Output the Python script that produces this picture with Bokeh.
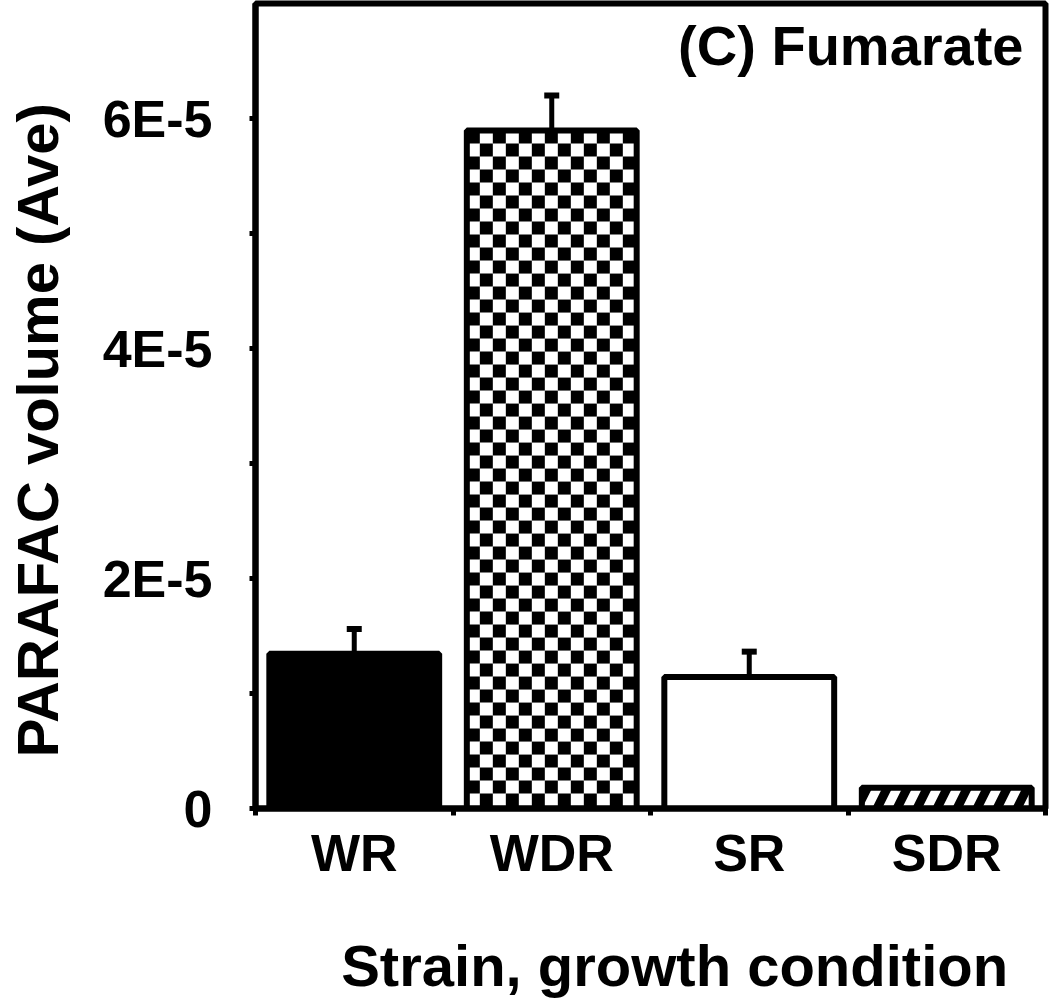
import math
from bokeh.plotting import figure
from bokeh.models import (ColumnDataSource, FixedTicker, Whisker, TeeHead, Label, Range1d)
from bokeh.embed import file_html
from bokeh.resources import INLINE

# ---- data ----
categories = ["WR", "WDR", "SR", "SDR"]
means = [1.345e-5, 5.895e-5, 1.144e-5, 0.18e-5]
errors = [0.215e-5, 0.305e-5, 0.22e-5, 0.0]
y_ticks = [0, 2e-5, 4e-5, 6e-5]
y_tick_labels = ["0", "2E-5", "4E-5", "6E-5"]
y_minor_ticks = [1e-5, 3e-5, 5e-5]
y_max = 7e-5
title_text = "(C) Fumarate"
x_title = "Strain, growth condition"
y_title = "PARAFAC volume (Ave)"

FONT = "Liberation Sans"
NBSP = "\u00a0"

# ---- layout ----
W, H = 1050, 1002
B_LEFT, B_RIGHT, B_TOP, B_BOTTOM = 255, 5, 3, 194
FRAME_W = W - B_LEFT - B_RIGHT
FRAME_H = H - B_TOP - B_BOTTOM
BAR_W = 0.86

n = len(categories)
xs = [i + 0.5 for i in range(n)]
bounds = [float(i) for i in range(n + 1)]

p = figure(width=W, height=H, output_backend="svg", toolbar_location=None,
           x_range=Range1d(0, n), y_range=Range1d(0, y_max),
           min_border_left=B_LEFT, min_border_right=B_RIGHT, min_border_top=B_TOP,
           min_border_bottom=B_BOTTOM)
p.xgrid.visible = False
p.ygrid.visible = False
p.outline_line_color = "black"
p.outline_line_width = 6
p.background_fill_color = "white"
p.border_fill_color = "white"

# pixel -> data conversion for the checker fill of WDR
px_x = FRAME_W / n
px_y = FRAME_H / y_max
CELL = 13.0

def checker_quads(xc, top, width):
    left, right = xc - width / 2, xc + width / 2
    cw, ch = CELL / px_x, CELL / px_y
    nx = int(math.ceil((right - left) / cw))
    ny = int(math.ceil(top / ch))
    L, R, B, T = [], [], [], []
    for j in range(ny):
        for i in range(nx):
            if (i + j) % 2 == 0:
                l = left + i * cw
                r = min(left + (i + 1) * cw, right)
                t = top - j * ch
                b = max(top - (j + 1) * ch, 0)
                L.append(l); R.append(r); B.append(b); T.append(t)
    return dict(left=L, right=R, bottom=B, top=T)

# WR: solid black
p.vbar(x=[xs[0]], top=[means[0]], bottom=0, width=BAR_W,
       fill_color="black", line_color="black", line_width=6)
# WDR: checkerboard
p.vbar(x=[xs[1]], top=[means[1]], bottom=0, width=BAR_W,
       fill_color="white", line_color=None)
p.quad(source=ColumnDataSource(checker_quads(xs[1], means[1], BAR_W)),
       left="left", right="right", bottom="bottom", top="top",
       fill_color="black", line_color=None)
p.vbar(x=[xs[1]], top=[means[1]], bottom=0, width=BAR_W,
       fill_color=None, line_color="black", line_width=6)
# SR: open
p.vbar(x=[xs[2]], top=[means[2]], bottom=0, width=BAR_W,
       fill_color="white", line_color="black", line_width=6)
# SDR: black with white diagonal dashes
p.vbar(x=[xs[3]], top=[means[3]], bottom=0, width=BAR_W,
       fill_color="black", line_color="black", line_width=6,
       hatch_pattern="/", hatch_color="white", hatch_scale=40, hatch_weight=9)

eb_idx = [i for i in range(n) if errors[i] > 0]
eb_src = ColumnDataSource(dict(
    x=[xs[i] for i in eb_idx],
    lower=[means[i] for i in eb_idx],
    upper=[means[i] + errors[i] for i in eb_idx],
))
p.add_layout(Whisker(source=eb_src, base="x", upper="upper", lower="lower",
                     dimension="height", line_width=5, line_color="black",
                     upper_head=TeeHead(size=15, line_width=6, line_color="black"),
                     lower_head=None))

# axes
for ax in (p.xaxis[0], p.yaxis[0]):
    ax.axis_line_width = 6
    ax.axis_line_color = "black"
    ax.major_label_text_font = FONT
    ax.major_label_text_font_style = "bold"
    ax.major_label_text_font_size = "52px"
    ax.major_label_text_color = "black"
    ax.axis_label_text_font = FONT
    ax.axis_label_text_font_style = "bold"
    ax.axis_label_text_font_size = "58px"
    ax.axis_label_text_color = "black"

p.yaxis.ticker = FixedTicker(ticks=y_ticks, minor_ticks=y_minor_ticks)
p.yaxis.major_label_overrides = dict(zip(y_ticks, y_tick_labels))
p.yaxis.major_tick_out = 6
p.yaxis.major_tick_in = 0
p.yaxis.major_tick_line_width = 5
p.yaxis.minor_tick_out = 6
p.yaxis.minor_tick_in = 0
p.yaxis.minor_tick_line_width = 5
p.yaxis.major_label_standoff = 37
p.yaxis.axis_label = y_title + NBSP * 3
p.yaxis.axis_label_standoff = 30

p.xaxis.ticker = FixedTicker(ticks=xs, minor_ticks=bounds)
p.xaxis.major_label_overrides = dict(zip(xs, categories))
p.xaxis.major_tick_out = 0
p.xaxis.major_tick_in = 0
p.xaxis.minor_tick_out = 7
p.xaxis.minor_tick_in = 0
p.xaxis.minor_tick_line_width = 5
p.xaxis.major_label_standoff = 8
p.xaxis.axis_label = NBSP * 3 + x_title
p.xaxis.axis_label_standoff = 48

p.add_layout(Label(x=n, y=y_max, x_offset=-22, y_offset=-42, text=title_text,
                   text_align="right", text_baseline="alphabetic",
                   text_font=FONT, text_font_style="bold", text_font_size="56px",
                   text_color="black"))

open("out.html", "w").write(file_html(p, INLINE))
